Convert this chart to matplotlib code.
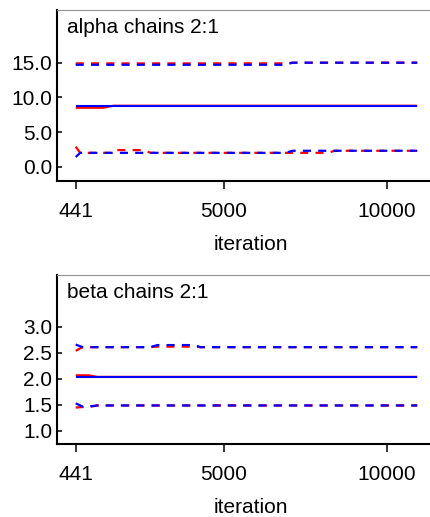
import numpy as np
import matplotlib
matplotlib.use('Agg')
import matplotlib.pyplot as plt

plt.rcParams['font.family'] = ['Liberation Sans', 'DejaVu Sans']
plt.rcParams['font.size'] = 15
plt.rcParams['lines.scale_dashes'] = False

# alpha: running quantiles (median, 2.5%, 97.5%) for chain 2 (red) and chain 1 (blue)
alpha_iter = [441, 580, 1300, 1600, 1700, 2500, 2750, 6900, 7100, 8200, 8400, 10941]
alpha_med_red = [8.5, 8.5, 8.5, 8.8, 8.8, 8.8, 8.8, 8.8, 8.8, 8.8, 8.8, 8.8]
alpha_med_blue = [8.8, 8.8, 8.8, 8.8, 8.8, 8.8, 8.8, 8.8, 8.8, 8.8, 8.8, 8.8]
alpha_hi_red = [14.9, 14.9, 14.9, 14.9, 14.9, 14.9, 14.9, 14.9, 15.0, 15.0, 15.0, 15.0]
alpha_hi_blue = [14.7, 14.7, 14.7, 14.7, 14.7, 14.7, 14.7, 14.7, 15.0, 15.0, 15.0, 15.0]
alpha_lo_red = [2.9, 2.0, 2.0, 2.0, 2.4, 2.4, 2.0, 2.0, 2.0, 2.0, 2.3, 2.3]
alpha_lo_blue = [1.4, 2.0, 2.0, 2.0, 2.0, 2.0, 2.0, 2.0, 2.3, 2.3, 2.3, 2.3]

# beta
beta_iter = [441, 650, 850, 1100, 2730, 2950, 4110, 4270, 10941]
beta_med_red = [2.07, 2.07, 2.07, 2.04, 2.04, 2.04, 2.04, 2.04, 2.04]
beta_med_blue = [2.04, 2.04, 2.04, 2.04, 2.04, 2.04, 2.04, 2.04, 2.04]
beta_hi_red = [2.54, 2.61, 2.61, 2.61, 2.61, 2.62, 2.62, 2.61, 2.61]
beta_hi_blue = [2.66, 2.61, 2.61, 2.61, 2.61, 2.65, 2.65, 2.61, 2.61]
beta_lo_red = [1.45, 1.46, 1.46, 1.49, 1.49, 1.49, 1.49, 1.49, 1.49]
beta_lo_blue = [1.53, 1.47, 1.47, 1.49, 1.49, 1.49, 1.49, 1.49, 1.49]

x_ticks = [441, 5000, 10000]
alpha_yticks = [0.0, 5.0, 10.0, 15.0]
beta_yticks = [1.0, 1.5, 2.0, 2.5, 3.0]

W, H = 431, 517
fig = plt.figure(figsize=(W / 100, H / 100), dpi=100)


def panel(top, bot, x, med, hi, lo, yticks, ylim, title):
    ax = fig.add_axes([57 / W, 1 - bot / H, (445 - 57) / W, (bot - top) / H])
    for col, k in [('#ff0000', 0), ('#0000ff', 1)]:
        ax.plot(x, med[k], color=col, lw=1.5, solid_capstyle='butt')
        ax.plot(x, hi[k], color=col, lw=1.6, dashes=(5.8, 5.2))
        ax.plot(x, lo[k], color=col, lw=1.6, dashes=(5.8, 5.2))
    ax.set_xlim(-134, 11794)
    ax.set_ylim(*ylim)
    ax.set_xticks(x_ticks)
    ax.set_xticklabels([str(t) for t in x_ticks])
    ax.set_yticks(yticks)
    ax.set_yticklabels(['%.1f' % t for t in yticks])
    ax.tick_params(axis='x', direction='out', length=5.8, width=1.1, pad=9.4)
    ax.tick_params(axis='y', direction='in', length=3.6, width=1.1, pad=3.5)
    ax.spines['right'].set_visible(False)
    ax.spines['top'].set_color('#909090')
    ax.spines['top'].set_linewidth(0.8)
    ax.spines['left'].set_linewidth(1.5)
    ax.spines['bottom'].set_linewidth(1.5)
    ax.set_xlabel('iteration', labelpad=10)
    ax.annotate(title, xy=(0, 1), xycoords='axes fraction', xytext=(10, -23),
                textcoords='offset pixels', va='baseline', ha='left')
    return ax


panel(10, 181, alpha_iter,
      (alpha_med_red, alpha_med_blue), (alpha_hi_red, alpha_hi_blue), (alpha_lo_red, alpha_lo_blue),
      alpha_yticks, (-2.06, 22.6), 'alpha chains 2:1')
panel(275.3, 444, beta_iter,
      (beta_med_red, beta_med_blue), (beta_hi_red, beta_hi_blue), (beta_lo_red, beta_lo_blue),
      beta_yticks, (0.75, 3.99), 'beta chains 2:1')

fig.savefig('out.png', dpi=100)
